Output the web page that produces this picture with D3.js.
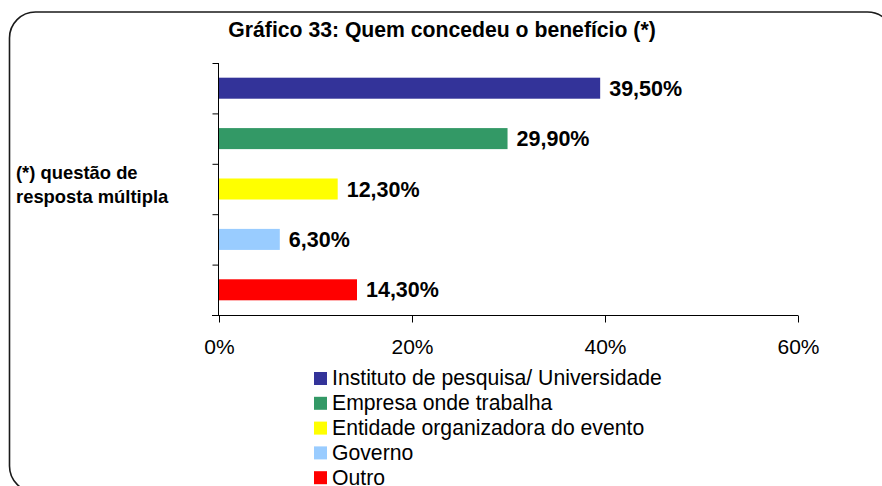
<!DOCTYPE html>
<html>
<head>
<meta charset="utf-8">
<script src="https://cdn.jsdelivr.net/npm/d3@7"></script>
<style>
  html, body { margin: 0; padding: 0; background: #fff; }
  svg { display: block; font-family: "Liberation Sans", Arial, sans-serif; }
</style>
</head>
<body>
<svg id="chart" width="882" height="486"></svg>
<script>
// ---- data ----
const categories = [
  "Instituto de pesquisa/ Universidade",
  "Empresa onde trabalha",
  "Entidade organizadora do evento",
  "Governo",
  "Outro"
];
const values = [39.5, 29.9, 12.3, 6.3, 14.3];
const valueLabels = ["39,50%", "29,90%", "12,30%", "6,30%", "14,30%"];
const colors = ["#333399", "#339966", "#FFFF00", "#99CCFF", "#FF0000"];
const xTicks = [0, 20, 40, 60];
const xTickLabels = ["0%", "20%", "40%", "60%"];
const title = "Gráfico 33: Quem concedeu o benefício (*)";
const noteLines = ["(*) questão de", "resposta múltipla"];

// ---- layout ----
const svg = d3.select("#chart");
const plot = { left: 219, right: 798, top: 63, bottom: 315 };

// frame
svg.append("rect")
  .attr("x", 9.5).attr("y", 12).attr("width", 884).attr("height", 480)
  .attr("rx", 26).attr("ry", 26)
  .attr("fill", "#fff").attr("stroke", "#1a1a1a").attr("stroke-width", 1.6);

// title
svg.append("text")
  .attr("x", 442).attr("y", 37)
  .attr("text-anchor", "middle")
  .attr("font-size", 21.2).attr("font-weight", "bold")
  .text(title);

// note
svg.append("g").selectAll("text").data(noteLines).join("text")
  .attr("x", 16).attr("y", (d, i) => 179 + i * 24)
  .attr("font-size", 18.4).attr("font-weight", "bold")
  .text(d => d);

const x = d3.scaleLinear().domain([0, 60]).range([plot.left, plot.right]);
const y = d3.scaleBand().domain(categories).range([plot.top, plot.bottom])
  .paddingInner(0.583).paddingOuter(0.2915);
const yTickScale = d3.scaleLinear().domain([0, categories.length]).range([plot.top, plot.bottom]);

// bars
svg.append("g").selectAll("rect").data(categories).join("rect")
  .attr("x", x(0))
  .attr("y", d => y(d))
  .attr("width", (d, i) => x(values[i]) - x(0))
  .attr("height", y.bandwidth())
  .attr("fill", (d, i) => colors[i]);

// value labels
svg.append("g").selectAll("text").data(categories).join("text")
  .attr("x", (d, i) => x(values[i]) + 9)
  .attr("y", d => y(d) + y.bandwidth() / 2 + 7.5)
  .attr("font-size", 21.5).attr("font-weight", "bold")
  .text((d, i) => valueLabels[i]);

// y axis
const yAxis = svg.append("g")
  .attr("transform", `translate(${plot.left - 0.5},0)`)
  .call(d3.axisLeft(yTickScale).tickValues(d3.range(categories.length + 1)).tickSize(6).tickFormat(""));
yAxis.select(".domain").attr("d", `M0,${plot.top}V${plot.bottom}`);

// x axis
const xAxis = svg.append("g")
  .attr("transform", `translate(0,${plot.bottom + 0.5})`)
  .call(d3.axisBottom(x).tickValues(xTicks).tickSize(7).tickFormat((d, i) => xTickLabels[i]));
xAxis.select(".domain").attr("d", `M${plot.left - 7},0H${plot.right}`);
xAxis.selectAll("text")
  .attr("font-size", 21).attr("font-family", "Liberation Sans, Arial, sans-serif")
  .attr("y", 0).attr("dy", 0).attr("transform", "translate(0,38)")
  .attr("fill", "#000");
[yAxis, xAxis].forEach(a => {
  a.selectAll("path, line").attr("stroke", "#000").attr("stroke-width", 1);
});

// legend
const legend = svg.append("g").selectAll("g").data(categories).join("g")
  .attr("transform", (d, i) => `translate(314,${372 + i * 24.8})`);
legend.append("rect")
  .attr("width", 13).attr("height", 13)
  .attr("fill", (d, i) => colors[i]);
legend.append("text")
  .attr("x", 18).attr("y", 13.3)
  .attr("font-size", 21.2)
  .text(d => d);
</script>
</body>
</html>
